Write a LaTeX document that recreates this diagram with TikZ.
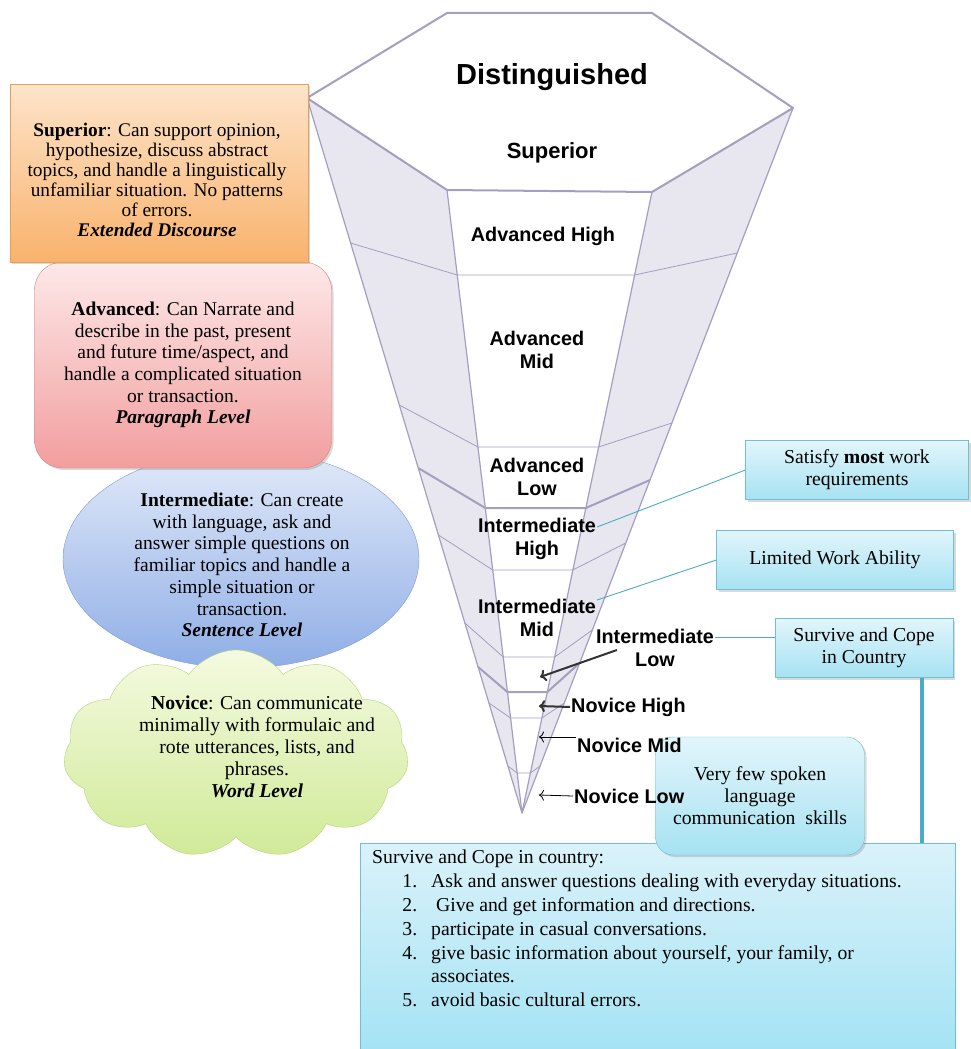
\documentclass[tikz,border=0pt]{standalone}
\usepackage{fontspec}
\setmainfont{Liberation Serif}
\setsansfont{Liberation Sans}
\usetikzlibrary{shapes.geometric,shapes.symbols,shadows,arrows.meta}

\definecolor{funnelc}{HTML}{A49EC0}
\definecolor{panelc}{HTML}{E8E6EE}
\definecolor{linkc}{HTML}{4BACC6}
\definecolor{notec}{HTML}{6FBFD6}
\definecolor{notetop}{HTML}{E2F5FB}
\definecolor{notebot}{HTML}{A6E2F2}
\definecolor{orangec}{HTML}{E3A05F}
\definecolor{orangetop}{HTML}{FDE4CA}
\definecolor{orangebot}{HTML}{F9B26C}
\definecolor{pinkc}{HTML}{CF8585}
\definecolor{pinktop}{HTML}{FDE8E8}
\definecolor{pinkbot}{HTML}{F29E9E}
\definecolor{bluec}{HTML}{7F9CCF}
\definecolor{bluetop}{HTML}{E2EAF9}
\definecolor{bluebot}{HTML}{8FAEE6}
\definecolor{greenc}{HTML}{B5D478}
\definecolor{greentop}{HTML}{F4FAE0}
\definecolor{greenbot}{HTML}{D0EA98}
\definecolor{listtop}{HTML}{DAF2FA}
\definecolor{listbot}{HTML}{A5E3F4}

\newcommand{\lnum}[1]{\makebox[59pt][r]{#1.\hspace{14pt}}}

\begin{document}
\begin{tikzpicture}[x=1pt,y=-1pt,
		funnel/.style={draw=funnelc, line width=1.2pt, line join=round},
		lvl/.style={font=\sffamily\bfseries\fontsize{19.8}{23}\selectfont, align=center, inner sep=1pt},
		txt/.style={font=\fontsize{19.5}{21.7}\selectfont, align=center, inner sep=0pt},
		shade box/.style={drop shadow={opacity=0.3, shadow xshift=2pt, shadow yshift=-2pt}},
		note/.style={draw=notec, top color=notetop, bottom color=notebot, shade box, font=\fontsize{19.7}{22}\selectfont, align=center},
		link/.style={draw=linkc, line width=0.9pt},
		fatarr/.style={-{To[length=6pt, width=12pt]}, line width=2pt, draw=black!80},
		thinarr/.style={-{To[length=5pt, width=11pt]}, line width=0.8pt}]
		\useasboundingbox (0,0) rectangle (970,1049);

		\coordinate (hexL) at (307,98);
		\coordinate (hexR) at (793,108);
		\coordinate (fl) at (447,190);
		\coordinate (fr) at (652,192);
		\coordinate (apex) at (522,813);

		\fill[panelc] (hexL) -- (fl) -- (apex) -- cycle;
		\fill[panelc] (hexR) -- (fr) -- (apex) -- cycle;
		\draw[funnel] (hexL) -- (apex) -- (hexR);
		\draw[funnel] (fl) -- (apex) -- (fr);
		\foreach \yb/\yl/\yr/\w in {275/243/253/0.8, 447/405/423/0.8, 508/468/480/2, 570/535/543/0.8, 657/623/630/0.8, 692/667/663/2, 718/703/703/0.8, 773/766/766/0.8}{
			\pgfmathsetmacro\xa{307+(\yl-98)*0.3007}
			\pgfmathsetmacro\xb{447+(\yb-190)*0.12039}
			\pgfmathsetmacro\xc{652-(\yb-192)*0.20934}
			\pgfmathsetmacro\xd{793-(\yr-108)*0.3844}
			\draw[funnel, line width=\w pt] (\xa,\yl) -- (\xb,\yb) -- (\xc,\yb) -- (\xd,\yr);
		}
		\draw[funnel, line width=2pt, fill=white] (447,13) -- (652,13) -- (hexR) -- (fr) -- (fl) -- (hexL) -- cycle;

		\draw (552,77) node[lvl, font=\sffamily\bfseries\fontsize{29}{32}\selectfont] (dist) {Distinguished};
		\draw (552,153) node[lvl, font=\sffamily\bfseries\fontsize{22}{26}\selectfont] (sup) {Superior};
		\draw (543,236) node[lvl] (advhigh) {Advanced High};
		\draw (537,350) node[lvl] (advmid) {Advanced\\Mid};
		\draw (537,477) node[lvl] (advlow) {Advanced\\Low};
		\draw (537,539) node[lvl] (inthigh) {Intermediate\\High};
		\draw (537,618) node[lvl] (intmid) {Intermediate\\Mid};
		\draw (655,648) node[lvl] (intlow) {Intermediate\\Low};

		\draw (857,470) node[note, minimum width=223pt, minimum height=59pt] (satisfy) {Satisfy \textbf{most} work\\requirements};
		\draw (835,560) node[note, minimum width=237pt, minimum height=59pt] (limited) {Limited Work Ability};
		\draw (864,648) node[note, minimum width=178pt, minimum height=59pt] (survive) {Survive and Cope\\in Country};

		\draw[link] ([yshift=12pt]inthigh.east) -- (satisfy.west);
		\draw[link] ([yshift=18pt]intmid.east) -- (limited.west);
		\draw[link] ([yshift=11pt]intlow.east) coordinate (ilo) -- (ilo -| survive.west);
		\coordinate (barend) at (922,884);
		\draw[linkc, line width=4pt] (survive.south -| barend) -- (barend);

		\draw (657.5,946) node[draw=notec, top color=listtop, bottom color=listbot, minimum width=595pt, minimum height=206pt] (cope) {};
		\draw (372,850) node[anchor=north west, align=left, inner sep=0pt, font=\fontsize{19.7}{23.8}\selectfont] (copetxt) {Survive and Cope in country:\\
			\lnum{1}Ask and answer questions dealing with everyday situations.\\
			\lnum{2} Give and get information and directions.\\
			\lnum{3}participate in casual conversations.\\
			\lnum{4}give basic information about yourself, your family, or\\
			\hspace*{59pt}associates.\\
			\lnum{5}avoid basic cultural errors.};
		\draw (760,796) node[note, rounded corners=18pt, minimum width=209pt, minimum height=118pt] (fewskills) {Very few spoken\\language\\communication\ \ skills};

		\draw (570,707) node[lvl, anchor=west] (novhigh) {Novice High};
		\draw (576,745) node[lvl, anchor=west] (novmid) {Novice Mid};
		\draw (573,796) node[lvl, anchor=west] (novlow) {Novice Low};
		\coordinate (tipIL) at (540,677);
		\coordinate (tipNH) at (539,706);
		\coordinate (tipNM) at (539,737);
		\coordinate (tipNL) at (539,795);
		\draw[fatarr] ([xshift=22pt,yshift=-2pt]intlow.west) -- (tipIL);
		\draw[fatarr] (novhigh.west) -- (tipNH);
		\draw[thinarr] ([yshift=8pt]novmid.west) -- (tipNM);
		\draw[thinarr] (novlow.west) -- (tipNL);

		\draw (241,559) node[ellipse, draw=bluec, top color=bluetop, bottom color=bluebot, minimum width=356pt, minimum height=218pt] (intell) {};
		\draw (242,565) node[txt] (inttxt) {\textbf{Intermediate}: Can create\\with language, ask and\\answer simple questions on\\familiar topics and handle a\\simple situation or\\transaction.\\\textbf{\textit{Sentence Level}}};
		\draw (183,365) node[txt, draw=pinkc, top color=pinktop, bottom color=pinkbot, shade box, rounded corners=28pt, minimum width=297pt, minimum height=206pt] (advbox) {\textbf{Advanced}: Can Narrate and\\describe in the past, present\\and future time/aspect, and\\handle a complicated situation\\or transaction.\\\textbf{\textit{Paragraph Level}}};
		\draw (159,173) node[draw=orangec, top color=orangetop, bottom color=orangebot, shade box, minimum width=298pt, minimum height=178pt] (supbox) {};
		\draw (157,180) node[txt, font=\fontsize{19.3}{20}\selectfont] (suptxt) {\textbf{Superior}: Can support opinion,\\hypothesize, discuss abstract\\topics, and handle a linguistically\\unfamiliar situation. No patterns\\of errors.\\\textbf{\textit{Extended Discourse}}};
		\draw (236,754) node[cloud, cloud puffs=11, cloud puff arc=110, aspect=1.6, draw=greenc, top color=greentop, bottom color=greenbot, minimum width=345pt, minimum height=208pt] (novcloud) {};
		\draw (257,747) node[txt, font=\fontsize{19.7}{22}\selectfont] (novtxt) {\textbf{Novice}: Can communicate\\minimally with formulaic and\\rote utterances, lists, and\\phrases.\\\textbf{\textit{Word Level}}};
	\end{tikzpicture}
\end{document}
